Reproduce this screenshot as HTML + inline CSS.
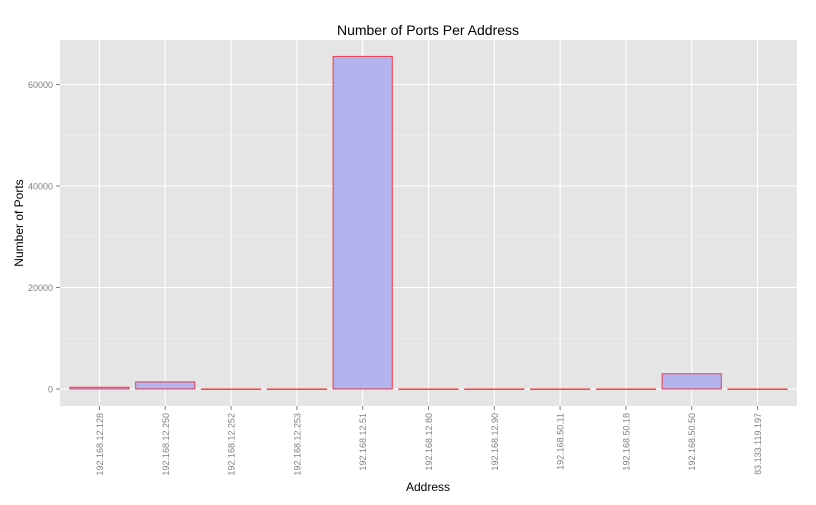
<!DOCTYPE html>
<html><head><meta charset="utf-8"><style>
body{margin:0;background:#fff;}
svg{display:block;font-family:"Liberation Sans",sans-serif;}
</style></head><body>
<svg id="chart" width="816" height="505"></svg>
<script>
const categories=["192.168.12.128","192.168.12.250","192.168.12.252","192.168.12.253","192.168.12.51","192.168.12.80","192.168.12.90","192.168.50.11","192.168.50.18","192.168.50.50","83.133.119.197"];
const ports=[350,1400,10,10,65535,10,10,10,10,3000,10];
const yTicks=[0,20000,40000,60000];
const NS="http://www.w3.org/2000/svg";
const svg=document.getElementById('chart');
function mk(t,a,p){const e=document.createElementNS(NS,t);for(const k in a)e.setAttribute(k,a[k]);(p||svg).appendChild(e);return e;}
const L=60,R=797,T=40,B=406;
const y0=389,pxPer=101.5/20000;
function y(v){return y0-v*pxPer;}
const n=categories.length,step=(R-L)/(n+0.2);
function x(i){return L+step*(0.6+i);}
const bw=step*0.9;
let e=mk('rect',{x:L,y:T,width:R-L,height:B-T,fill:'#e5e5e5'});

// minor grid
for(let i=0;i<yTicks.length;i++){const v=yTicks[i]+10000;if(y(v)>T){e=mk('line',{x1:L,x2:R,y1:y(v),y2:y(v),stroke:'#f2f2f2','stroke-width':0.6});}}
yTicks.forEach(v=>{e=mk('line',{x1:L,x2:R,y1:y(v),y2:y(v),stroke:'#fff','stroke-width':1.1});
 e=mk('line',{x1:56,x2:60,y1:y(v),y2:y(v),stroke:'#7f7f7f'});
 e=mk('text',{x:53,y:y(v)+3.5,'text-anchor':'end','font-size':9,fill:'#7f7f7f'});e.textContent=v;});
categories.forEach((c,i)=>{e=mk('line',{x1:x(i),x2:x(i),y1:T,y2:B,stroke:'#fff','stroke-width':1.1});});
categories.forEach((c,i)=>{const top=y(ports[i]);
 e=mk('rect',{x:x(i)-bw/2,y:top,width:bw,height:Math.max(y0-top,0.5),fill:'#b3b3ee',stroke:'#f00','stroke-width':1,'stroke-opacity':0.7});
 
 e=mk('line',{x1:x(i),x2:x(i),y1:B,y2:B+4,stroke:'#7f7f7f'});
 e=mk('text',{transform:`translate(${x(i)+3.5},${B+7}) rotate(-90)`,'text-anchor':'end','font-size':9,fill:'#7f7f7f'});e.textContent=c;});
e=mk('text',{x:428,y:35,'text-anchor':'middle','font-size':14,fill:'#000'});e.textContent='Number of Ports Per Address';
e=mk('text',{x:428,y:491,'text-anchor':'middle','font-size':12,fill:'#000'});e.textContent='Address';
e=mk('text',{transform:'translate(23,223) rotate(-90)','text-anchor':'middle','font-size':12,fill:'#000'});e.textContent='Number of Ports';
</script>
</body></html>
